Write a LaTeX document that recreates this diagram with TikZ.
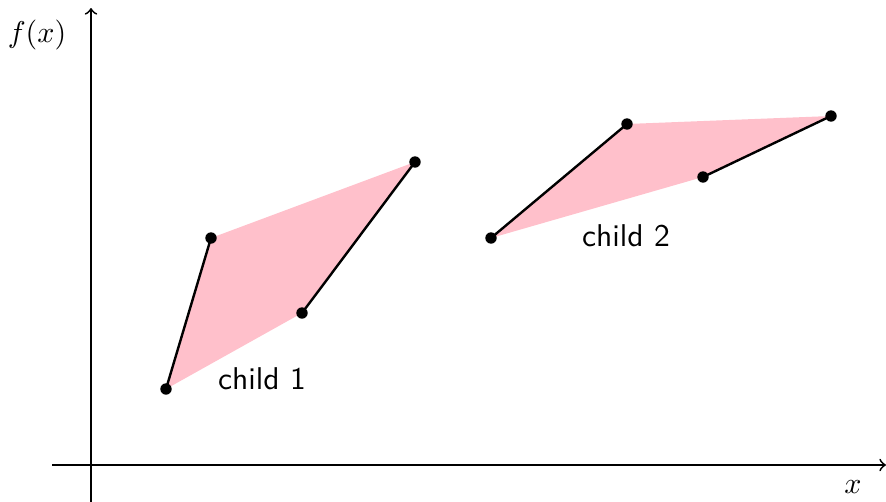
\documentclass[tikz,border=0pt]{standalone}
\usepackage{tikz}
\definecolor{fillpink}{RGB}{255,192,203}
\begin{document}
\begin{tikzpicture}[x=0.3333pt,y=-0.3333pt,
  dot/.style={circle,fill=black,inner sep=0pt,minimum size=3.8pt},
  seg/.style={thick},
  axis/.style={semithick,->},
  lbl/.style={font=\sffamily\fontsize{10.5}{12}\selectfont}]
\useasboundingbox (0,0) rectangle (886,502);
% axes
\coordinate (xs) at (52,465);
\coordinate (xe) at (886,465);
\coordinate (ys) at (91,502);
\coordinate (ye) at (91,8);
\draw[axis] (xs) -- (xe);
\draw[axis] (ys) -- (ye);
\node (fx) at (37,35) {$f(x)$};
\node (xl) at (853,487) {$x$};
% child 1
\coordinate (a1) at (166,389);
\coordinate (a2) at (211,238);
\coordinate (a3) at (302,313);
\coordinate (a4) at (415,162);
\fill[fillpink] (a1) -- (a2) -- (a4) -- (a3) -- cycle;
\draw[seg] (a1) -- (a2);
\draw[seg] (a3) -- (a4);
\foreach \p in {a1,a2,a3,a4} \node[dot] (d\p) at (\p) {};
\node[lbl] (c1) at (262,379) {child 1};
% child 2
\coordinate (b1) at (491,238);
\coordinate (b2) at (627,124);
\coordinate (b3) at (703,177);
\coordinate (b4) at (831,116);
\fill[fillpink] (b1) -- (b2) -- (b4) -- (b3) -- cycle;
\draw[seg] (b1) -- (b2);
\draw[seg] (b3) -- (b4);
\foreach \p in {b1,b2,b3,b4} \node[dot] (d\p) at (\p) {};
\node[lbl] (c2) at (626,236) {child 2};
\end{tikzpicture}
\end{document}
